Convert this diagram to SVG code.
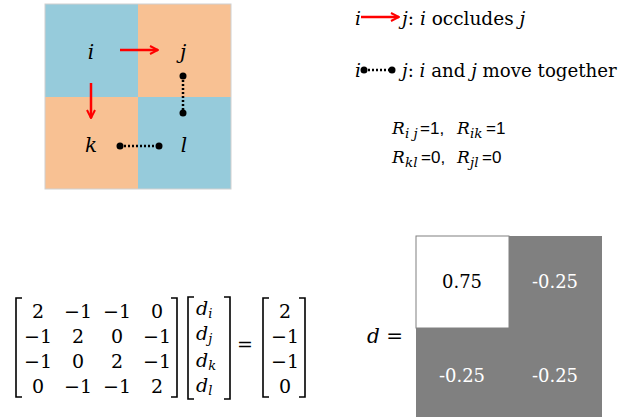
<svg xmlns="http://www.w3.org/2000/svg" width="632" height="417" viewBox="0 0 632 417">
<defs>
<marker id="ah" viewBox="0 0 10 10" refX="9" refY="5" markerWidth="10" markerHeight="10" markerUnits="userSpaceOnUse" orient="auto">
<path d="M1,1 L9,5 L1,9" fill="none" stroke="#FF0000" stroke-width="2"/>
</marker>
<marker id="dot" viewBox="0 0 8 8" refX="4" refY="4" markerWidth="8" markerHeight="8" markerUnits="userSpaceOnUse">
<circle cx="4" cy="4" r="3.5" fill="#000"/>
</marker>
</defs>
<style>
.it{font-style:italic;fill:#000}
.rm{font-style:normal;fill:#000}
.occ{stroke:#FF0000;stroke-width:2.5;fill:none;marker-end:url(#ah)}
.tog{stroke:#000;stroke-width:2.5;stroke-dasharray:2 2;fill:none;marker-start:url(#dot);marker-end:url(#dot)}
.br{fill:none;stroke:#000;stroke-width:1.6}
.m{font-size:19px;text-anchor:middle;fill:#000}
.dv{font-size:18px;text-anchor:middle;fill:#000}
.wt{fill:#fff}
</style>
<rect width="632" height="417" fill="#fff"/>
<g id="grid">
<rect x="45" y="4" width="93" height="93" fill="#96CBDB"/>
<rect x="138" y="4" width="93" height="93" fill="#F8C193"/>
<rect x="45" y="97" width="93" height="92" fill="#F8C193"/>
<rect x="138" y="97" width="93" height="92" fill="#96CBDB"/>
<rect x="45" y="4" width="186" height="185" fill="none" stroke="#D0D0D0" stroke-width="1"/>
</g>
<g id="node-i"><text font-family="DejaVu Serif" class="it" x="91" y="59" font-size="20" text-anchor="middle">i</text></g>
<g id="node-j"><text font-family="DejaVu Serif" class="it" x="183" y="59" font-size="20" text-anchor="middle">j</text></g>
<g id="node-k"><text font-family="DejaVu Serif" class="it" x="91" y="152" font-size="20" text-anchor="middle">k</text></g>
<g id="node-l"><text font-family="DejaVu Serif" class="it" x="184" y="152" font-size="20" text-anchor="middle">l</text></g>
<g id="connectors">
<line class="occ" x1="120" y1="50" x2="158" y2="50"/>
<line class="occ" x1="91" y1="83" x2="91" y2="118"/>
<line class="tog" x1="183" y1="76" x2="183" y2="113"/>
<line class="tog" x1="120" y1="146" x2="159" y2="146"/>
</g>
<g id="legend">
<text font-family="DejaVu Serif" class="it" x="355" y="25" font-size="18.5">i</text>
<line class="occ" x1="361" y1="17" x2="399" y2="17"/>
<text font-family="DejaVu Serif" class="rm" x="402" y="25" font-size="18.5"><tspan class="it">j</tspan>: <tspan class="it">i</tspan> occludes <tspan class="it">j</tspan></text>
<text font-family="DejaVu Serif" class="it" x="355" y="77" font-size="18.5">i</text>
<line class="tog" x1="364" y1="70" x2="392" y2="70"/>
<text font-family="DejaVu Serif" class="rm" x="402" y="77" font-size="18.2"><tspan class="it">j</tspan>: <tspan class="it">i</tspan> and <tspan class="it">j</tspan> move together</text>
</g>
<g id="relations">
<text font-family="DejaVu Serif" y="134"><tspan class="it" font-size="17" x="392">R</tspan><tspan class="it" font-size="13.5" x="405" dy="4">i j</tspan><tspan font-family="Liberation Sans, sans-serif" font-size="17" x="420" dy="-4">=1,</tspan><tspan class="it" font-size="17" x="457">R</tspan><tspan class="it" font-size="13.5" x="470" dy="4">ik</tspan><tspan font-family="Liberation Sans, sans-serif" font-size="17" x="486" dy="-4">=1</tspan></text>
<text font-family="DejaVu Serif" y="163"><tspan class="it" font-size="17" x="392">R</tspan><tspan class="it" font-size="13.5" x="405" dy="4">kl</tspan><tspan font-family="Liberation Sans, sans-serif" font-size="17" x="421" dy="-4">=0,</tspan><tspan class="it" font-size="17" x="457">R</tspan><tspan class="it" font-size="13.5" x="470" dy="4">jl</tspan><tspan font-family="Liberation Sans, sans-serif" font-size="17" x="482" dy="-4">=0</tspan></text>
</g>
<g id="equation">
<path class="br" d="M22,298 H16 V397 H22"/>
<path class="br" d="M171,298 H177 V397 H171"/>
<text font-family="DejaVu Serif" class="m" x="38" y="318">2</text><text font-family="DejaVu Serif" class="m" x="78" y="318">−1</text><text font-family="DejaVu Serif" class="m" x="117" y="318">−1</text><text font-family="DejaVu Serif" class="m" x="157" y="318">0</text>
<text font-family="DejaVu Serif" class="m" x="38" y="343">−1</text><text font-family="DejaVu Serif" class="m" x="78" y="343">2</text><text font-family="DejaVu Serif" class="m" x="117" y="343">0</text><text font-family="DejaVu Serif" class="m" x="157" y="343">−1</text>
<text font-family="DejaVu Serif" class="m" x="38" y="368">−1</text><text font-family="DejaVu Serif" class="m" x="78" y="368">0</text><text font-family="DejaVu Serif" class="m" x="117" y="368">2</text><text font-family="DejaVu Serif" class="m" x="157" y="368">−1</text>
<text font-family="DejaVu Serif" class="m" x="38" y="393">0</text><text font-family="DejaVu Serif" class="m" x="78" y="393">−1</text><text font-family="DejaVu Serif" class="m" x="117" y="393">−1</text><text font-family="DejaVu Serif" class="m" x="157" y="393">2</text>
<path class="br" d="M194,297 H188 V399 H194"/>
<path class="br" d="M224,297 H230 V399 H224"/>
<text font-family="DejaVu Serif" class="it" x="196" y="315" font-size="19">d<tspan font-size="13" dy="3">i</tspan></text>
<text font-family="DejaVu Serif" class="it" x="196" y="340" font-size="19">d<tspan font-size="13" dy="3">j</tspan></text>
<text font-family="DejaVu Serif" class="it" x="196" y="367" font-size="19">d<tspan font-size="13" dy="3">k</tspan></text>
<text font-family="DejaVu Serif" class="it" x="196" y="392" font-size="19">d<tspan font-size="13" dy="3">l</tspan></text>
<text font-family="DejaVu Serif" class="m" x="245" y="351">=</text>
<path class="br" d="M269,298 H263 V397 H269"/>
<path class="br" d="M299,298 H305 V397 H299"/>
<text font-family="DejaVu Serif" class="m" x="285" y="318">2</text>
<text font-family="DejaVu Serif" class="m" x="285" y="343">−1</text>
<text font-family="DejaVu Serif" class="m" x="285" y="368">−1</text>
<text font-family="DejaVu Serif" class="m" x="285" y="393">0</text>
</g>
<g id="result">
<text font-family="DejaVu Serif" x="367" y="343" font-size="20"><tspan class="it">d</tspan><tspan class="rm"> =</tspan></text>
<rect x="416" y="236" width="186" height="184" fill="#808080"/>
<rect x="416" y="236" width="93" height="92" fill="#fff" stroke="#808080" stroke-width="1"/>
<text font-family="DejaVu Serif" class="dv" x="462" y="288">0.75</text>
<text font-family="DejaVu Serif" class="dv wt" x="555" y="288">-0.25</text>
<text font-family="DejaVu Serif" class="dv wt" x="462" y="382">-0.25</text>
<text font-family="DejaVu Serif" class="dv wt" x="555" y="382">-0.25</text>
</g>
</svg>
